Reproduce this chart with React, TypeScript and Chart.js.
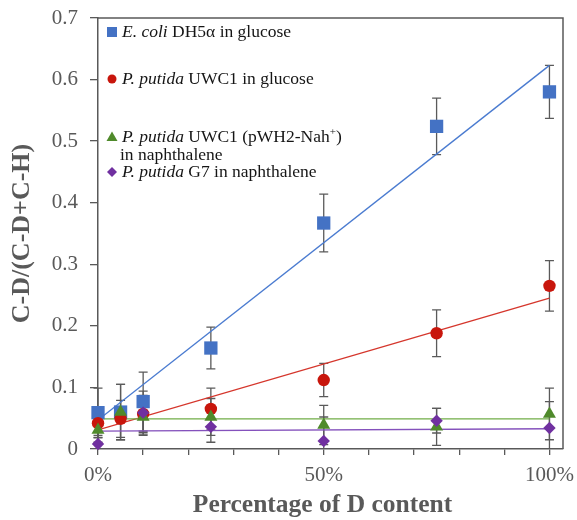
import React, { useEffect, useRef } from 'react';
import { Chart, registerables } from 'chart.js';

Chart.register(...registerables);

// ---- data ----
const xValues = [0, 0.05, 0.1, 0.25, 0.5, 0.75, 1.0];

const ecoliValues = [0.059, 0.06, 0.077, 0.164, 0.367, 0.524, 0.58];
const ecoliErrors = [0.04, 0.045, 0.048, 0.034, 0.047, 0.046, 0.043];

const uwc1GlucoseValues = [0.042, 0.049, 0.057, 0.065, 0.112, 0.188, 0.265];
const uwc1GlucoseErrors = [0.02, 0.03, 0.03, 0.034, 0.027, 0.038, 0.041];

const uwc1NaphValues = [0.031, 0.06, 0.052, 0.052, 0.039, 0.036, 0.057];
const uwc1NaphErrors = [0.02, 0.045, 0.03, 0.03, 0.032, 0.03, 0.042];

const g7Values: (number | null)[] = [0.008, null, 0.059, 0.036, 0.013, 0.046, 0.034];
const g7Errors = [0.01, 0.03, 0.035, 0.025, 0.039, 0.02, 0.043];

const trendX = [0, 1];
const ecoliTrend = [0.047, 0.623];
const uwc1GlucoseTrend = [0.031, 0.245];
const uwc1NaphTrend = [0.049, 0.049];
const g7Trend = [0.029, 0.033];

const yTickValues = [0, 0.1, 0.2, 0.3, 0.4, 0.5, 0.6, 0.7];
const yTickLabels = ['0', '0.1', '0.2', '0.3', '0.4', '0.5', '0.6', '0.7'];
const xTickValues = [0, 0.1, 0.2, 0.3, 0.4, 0.5, 0.6, 0.7, 0.8, 0.9, 1.0];
const xTickLabels = ['0%', '', '', '', '', '50%', '', '', '', '', '100%'];

const xTitle = 'Percentage of D content';
const yTitle = 'C-D/(C-D+C-H)';

// legend text runs: [text, italic]
const legendEcoli: [string, boolean][][] = [[['E. coli', true], [' DH5α in glucose', false]]];
const legendUwc1Glucose: [string, boolean][][] = [[['P. putida', true], [' UWC1 in glucose', false]]];
const legendUwc1Naph: [string, boolean][][] = [
  [['P. putida', true], [' UWC1 (pWH2-Nah', false], ['+', false], [')', false]],
  [['in naphthalene', false]],
];
const legendG7: [string, boolean][][] = [[['P. putida', true], [' G7 in naphthalene', false]]];

// ---- styles ----
const FONT = "'Liberation Serif', 'Times New Roman', serif";
const AXIS_COLOR = '#595959';
const BLUE = '#4472C4';
const BLUE_LINE = '#4A7BD0';
const RED = '#C8160C';
const RED_LINE = '#D5362C';
const GREEN = '#4F8A2B';
const GREEN_LINE = '#70AD47';
const PURPLE = '#7030A0';
const PURPLE_LINE = '#8451BC';

const series = [
  { values: ecoliValues, errors: ecoliErrors },
  { values: uwc1GlucoseValues, errors: uwc1GlucoseErrors },
  { values: uwc1NaphValues, errors: uwc1NaphErrors },
  { values: g7Values, errors: g7Errors },
];

const errorBarPlugin = {
  id: 'errorBars',
  beforeDatasetsDraw(chart: any) {
    const { ctx, chartArea, scales } = chart;
    const x = scales.x;
    const y = scales.y;
    ctx.save();
    ctx.beginPath();
    ctx.rect(chartArea.left - 20, chartArea.top, chartArea.right - chartArea.left + 40, chartArea.bottom - chartArea.top);
    ctx.clip();
    ctx.strokeStyle = '#5a5a5a';
    ctx.lineWidth = 1.3;
    series.forEach((s) => {
      s.values.forEach((v, i) => {
        if (v == null) return;
        const px = x.getPixelForValue(xValues[i]);
        const top = y.getPixelForValue(v + s.errors[i]);
        const bot = y.getPixelForValue(v - s.errors[i]);
        ctx.beginPath();
        ctx.moveTo(px, top);
        ctx.lineTo(px, bot);
        ctx.moveTo(px - 4.5, top);
        ctx.lineTo(px + 4.5, top);
        ctx.moveTo(px - 4.5, bot);
        ctx.lineTo(px + 4.5, bot);
        ctx.stroke();
      });
    });
    ctx.restore();
  },
};

const frameAndLegendPlugin = {
  id: 'frameLegend',
  afterDraw(chart: any) {
    const { ctx, chartArea } = chart;
    const { left, top, right, bottom } = chartArea;
    ctx.save();
    ctx.strokeStyle = AXIS_COLOR;
    ctx.lineWidth = 1.5;
    ctx.beginPath();
    ctx.moveTo(left, top);
    ctx.lineTo(right, top);
    ctx.lineTo(right, bottom);
    ctx.stroke();

    // x-axis title
    ctx.fillStyle = AXIS_COLOR;
    ctx.font = `bold 25.5px ${FONT}`;
    ctx.textAlign = 'center';
    ctx.textBaseline = 'middle';
    ctx.fillText(xTitle, (left + right) / 2 - 8, chart.height - 15);

    const markerX = left + 14;
    const textX = left + 24;
    const size = 17.5;
    const entries = [
      { shape: 'square', color: BLUE, lines: legendEcoli, y: top + 14 },
      { shape: 'circle', color: RED, lines: legendUwc1Glucose, y: top + 61 },
      { shape: 'triangle', color: GREEN, lines: legendUwc1Naph, y: top + 119 },
      { shape: 'diamond', color: PURPLE, lines: legendG7, y: top + 154 },
    ];
    entries.forEach((e) => {
      ctx.fillStyle = e.color;
      ctx.beginPath();
      const my = e.y;
      if (e.shape === 'square') {
        ctx.rect(markerX - 5, my - 5, 10, 10);
      } else if (e.shape === 'circle') {
        ctx.arc(markerX, my, 4.5, 0, Math.PI * 2);
      } else if (e.shape === 'triangle') {
        ctx.moveTo(markerX, my - 5.5);
        ctx.lineTo(markerX + 5.5, my + 4);
        ctx.lineTo(markerX - 5.5, my + 4);
        ctx.closePath();
      } else {
        ctx.moveTo(markerX, my - 5);
        ctx.lineTo(markerX + 5, my);
        ctx.lineTo(markerX, my + 5);
        ctx.lineTo(markerX - 5, my);
        ctx.closePath();
      }
      ctx.fill();

      ctx.fillStyle = '#151515';
      ctx.textBaseline = 'middle';
      ctx.textAlign = 'left';
      e.lines.forEach((runs, li) => {
        let cx = li === 0 ? textX : textX - 2;
        const ly = e.y + li * 18;
        runs.forEach(([t, italic]) => {
          const sup = t === '+';
          ctx.font = `${italic ? 'italic ' : ''}${sup ? 11 : size}px ${FONT}`;
          ctx.fillText(t, cx, sup ? ly - 5 : ly);
          cx += ctx.measureText(t).width;
        });
      });
    });
    ctx.restore();
  },
};

export default function App() {
  const canvasRef = useRef<HTMLCanvasElement | null>(null);

  useEffect(() => {
    if (!canvasRef.current) return;
    const toPoints = (vals: (number | null)[]) => vals.map((v, i) => ({ x: xValues[i], y: v }));
    const trendPoints = (vals: number[]) => vals.map((v, i) => ({ x: trendX[i], y: v }));

    const chart = new Chart(canvasRef.current, {
      type: 'scatter',
      data: {
        datasets: [
          { label: 'ecoli', data: toPoints(ecoliValues), pointStyle: 'rect', pointRadius: 9.4, backgroundColor: BLUE, borderColor: BLUE, borderWidth: 0, order: 4, clip: false } as any,
          { label: 'uwc1g', data: toPoints(uwc1GlucoseValues), pointStyle: 'circle', pointRadius: 6.2, backgroundColor: RED, borderColor: RED, borderWidth: 0, order: 3, clip: false } as any,
          { label: 'uwc1n', data: toPoints(uwc1NaphValues), pointStyle: 'triangle', pointRadius: 7.5, backgroundColor: GREEN, borderColor: GREEN, borderWidth: 0, order: 2, clip: false } as any,
          { label: 'g7', data: toPoints(g7Values), pointStyle: 'rectRot', pointRadius: 6.2, backgroundColor: PURPLE, borderColor: PURPLE, borderWidth: 0, order: 1, clip: false } as any,
          { type: 'line', label: 't1', data: trendPoints(ecoliTrend), borderColor: BLUE_LINE, borderWidth: 1.4, pointRadius: 0, showLine: true, fill: false, order: 8 } as any,
          { type: 'line', label: 't2', data: trendPoints(uwc1GlucoseTrend), borderColor: RED_LINE, borderWidth: 1.4, pointRadius: 0, showLine: true, fill: false, order: 7 } as any,
          { type: 'line', label: 't3', data: trendPoints(uwc1NaphTrend), borderColor: GREEN_LINE, borderWidth: 1.4, pointRadius: 0, showLine: true, fill: false, order: 6 } as any,
          { type: 'line', label: 't4', data: trendPoints(g7Trend), borderColor: PURPLE_LINE, borderWidth: 1.4, pointRadius: 0, showLine: true, fill: false, order: 5 } as any,
        ],
      },
      options: {
        animation: false,
        responsive: false,
        maintainAspectRatio: false,
        layout: { padding: { top: 18, right: 14, left: 0, bottom: 0 } },
        plugins: {
          legend: { display: false },
          tooltip: { enabled: false },
        },
        scales: {
          x: {
            type: 'linear',
            min: 0,
            max: 1.03,
            afterBuildTicks: (scale: any) => {
              scale.ticks = xTickValues.map((v) => ({ value: v }));
            },
            afterFit: (scale: any) => {
              scale.height = 71;
              scale.paddingLeft = 0;
              scale.paddingRight = 0;
            },
            ticks: {
              autoSkip: false,
              maxRotation: 0,
              padding: 8,
              color: AXIS_COLOR,
              font: { family: FONT, size: 21 },
              callback: (_v: any, i: number) => xTickLabels[i] ?? '',
            },
            grid: { drawOnChartArea: false, drawTicks: true, tickLength: 6, color: AXIS_COLOR, lineWidth: 1.3 },
            border: { display: true, color: AXIS_COLOR, width: 1.5 },
            title: { display: false },
          },
          y: {
            type: 'linear',
            min: 0,
            max: 0.7,
            afterBuildTicks: (scale: any) => {
              scale.ticks = yTickValues.map((v) => ({ value: v }));
            },
            afterFit: (scale: any) => {
              scale.width = 98;
              scale.paddingTop = 0;
              scale.paddingBottom = 0;
            },
            ticks: {
              autoSkip: false,
              padding: 12,
              color: AXIS_COLOR,
              font: { family: FONT, size: 21 },
              callback: (_v: any, i: number) => yTickLabels[i] ?? '',
            },
            grid: { drawOnChartArea: false, drawTicks: true, tickLength: 8, color: AXIS_COLOR, lineWidth: 1.3 },
            border: { display: true, color: AXIS_COLOR, width: 1.5 },
            title: {
              display: true,
              text: yTitle,
              color: AXIS_COLOR,
              font: { family: FONT, size: 26, weight: 'bold', lineHeight: 1.2 },
              padding: { top: 7, bottom: 0 },
            },
          },
        },
      },
      plugins: [errorBarPlugin, frameAndLegendPlugin],
    } as any);

    return () => chart.destroy();
  }, []);

  return (
    <div style={{ position: 'absolute', left: 0, top: 0, width: 577, height: 520, background: '#fff' }}>
      <canvas ref={canvasRef} width={577} height={520} />
    </div>
  );
}
